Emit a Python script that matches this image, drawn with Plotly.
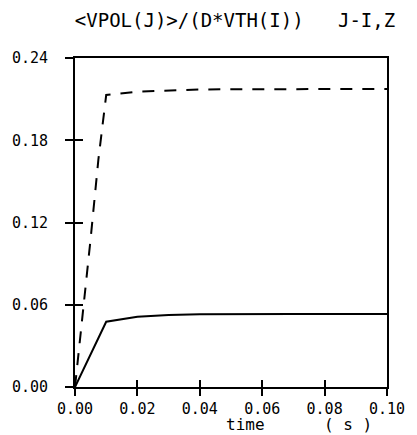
import plotly.graph_objects as go

# time axis (s) and the two normalised poloidal velocity curves
t_j1 = [0.0, 0.0025, 0.005, 0.0075, 0.01, 0.02, 0.03, 0.04, 0.05, 0.06, 0.07, 0.08, 0.09, 0.10]
v_j1 = [0.0, 0.052, 0.108, 0.166, 0.213, 0.2155, 0.2165, 0.217, 0.2172, 0.2173, 0.2174, 0.2174, 0.2174, 0.2174]

t_j2 = [0.0, 0.01, 0.02, 0.03, 0.04, 0.05, 0.06, 0.07, 0.08, 0.09, 0.10]
v_j2 = [0.0, 0.0476, 0.0513, 0.0525, 0.053, 0.0532, 0.0532, 0.0532, 0.0532, 0.0532, 0.0532]

x_ticks = [0.0, 0.02, 0.04, 0.06, 0.08, 0.10]
y_ticks = [0.0, 0.06, 0.12, 0.18, 0.24]
x_range = [0.0, 0.10]
y_range = [0.0, 0.24]

FONT = "DejaVu Sans Mono"

fig = go.Figure()
fig.add_trace(go.Scatter(x=t_j1, y=v_j1, mode="lines",
                         line=dict(color="black", width=2, dash="12px,10px"),
                         showlegend=False, hoverinfo="skip"))
fig.add_trace(go.Scatter(x=t_j2, y=v_j2, mode="lines",
                         line=dict(color="black", width=2),
                         showlegend=False, hoverinfo="skip"))
# invisible trace so the overlaid tick-only axes get drawn
fig.add_trace(go.Scatter(x=[None], y=[None], xaxis="x2", yaxis="y2",
                         showlegend=False, hoverinfo="skip"))

axis_common = dict(showgrid=False, zeroline=False, linecolor="black", linewidth=2,
                   tickcolor="black", tickwidth=2)

fig.update_layout(
    width=417, height=435,
    margin=dict(l=71, r=24, t=58, b=48),
    paper_bgcolor="white", plot_bgcolor="white",
    title=dict(text="<VPOL(J)>/(D*VTH(I))   J-I,Z", x=235 / 417, xanchor="center",
               y=1 - 20 / 435, yanchor="middle",
               font=dict(family=FONT, size=19, color="black")),
    xaxis=dict(range=x_range, tickvals=x_ticks, tickformat=".2f", ticks="outside",
               ticklen=7, showline=True, mirror=True, ticklabelstandoff=0,
               tickfont=dict(family=FONT, size=15, color="black"), **axis_common),
    yaxis=dict(range=y_range, tickvals=y_ticks, tickformat=".2f", ticks="outside",
               ticklen=8, showline=True, mirror=True, ticklabelstandoff=14,
               tickfont=dict(family=FONT, size=15, color="black"), **axis_common),
    xaxis2=dict(range=x_range, tickvals=x_ticks[1:-1], ticks="inside", ticklen=7,
                overlaying="x", anchor="y", showticklabels=False, showline=False,
                **axis_common),
    yaxis2=dict(range=y_range, tickvals=y_ticks[1:-1], ticks="inside", ticklen=8,
                overlaying="y", anchor="x", showticklabels=False, showline=False,
                **axis_common),
    annotations=[
        dict(text="time", xref="paper", yref="paper", x=(247 - 71) / 322, y=-48 / 329,
             xanchor="center", yanchor="bottom", showarrow=False, borderpad=0,
             font=dict(family=FONT, size=16, color="black")),
        dict(text="( s )", xref="paper", yref="paper", x=(353 - 71) / 322, y=-48 / 329,
             xanchor="center", yanchor="bottom", showarrow=False, borderpad=0,
             font=dict(family=FONT, size=16, color="black")),
    ],
)

fig.write_html("out.html")
